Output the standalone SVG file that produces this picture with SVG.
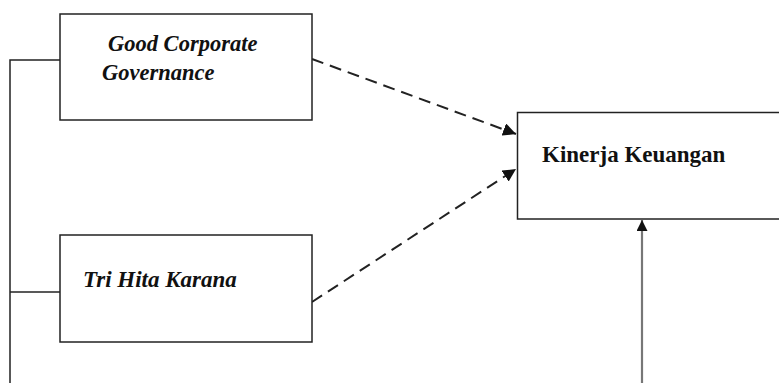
<svg xmlns="http://www.w3.org/2000/svg" width="779" height="383" viewBox="0 0 779 383">
<style>
.box{fill:#fff;stroke:#222;stroke-width:1.5}
.ln{fill:none;stroke:#222;stroke-width:1.5}
.dash{fill:none;stroke:#222;stroke-width:2;stroke-dasharray:12 7}
.t{font-family:"Liberation Serif","Times New Roman",serif;font-weight:bold;fill:#111}
.it{font-style:italic}
</style>
<defs>
<marker id="ah" viewBox="0 0 10 10" refX="10" refY="5" markerWidth="6.5" markerHeight="6.5" orient="auto" markerUnits="strokeWidth">
<path d="M0,0 L10,5 L0,10 z" fill="#111"/>
</marker>
<marker id="ah2" viewBox="0 0 10 10" refX="10" refY="5" markerWidth="5" markerHeight="5" orient="auto" markerUnits="strokeWidth">
<path d="M0,0 L10,5 L0,10 z" fill="#111"/>
</marker>
</defs>
<g id="connectors">
<path class="ln" d="M10,383 L10,60 L60,60"/>
<path class="ln" d="M10,292 L60,292"/>
<path class="dash" d="M312,59 L516,134" marker-end="url(#ah)"/>
<path class="dash" d="M312,302 L516,169" marker-end="url(#ah)"/>
<path d="M642,383 L642,220" fill="none" stroke="#777" stroke-width="2.2" marker-end="url(#ah2)"/>
</g>
<g id="gcg">
<rect class="box" x="60" y="14" width="252" height="106"/>
<text class="t it" x="108" y="51" font-size="22.5">Good Corporate</text>
<text class="t it" x="102" y="80" font-size="22.5">Governance</text>
</g>
<g id="thk">
<rect class="box" x="60" y="235" width="252" height="107"/>
<text class="t it" x="83" y="287" font-size="23">Tri Hita Karana</text>
</g>
<g id="kk">
<rect class="box" x="517.5" y="112.5" width="270" height="106.5"/>
<text class="t" x="542" y="162" font-size="23">Kinerja Keuangan</text>
</g>
</svg>
